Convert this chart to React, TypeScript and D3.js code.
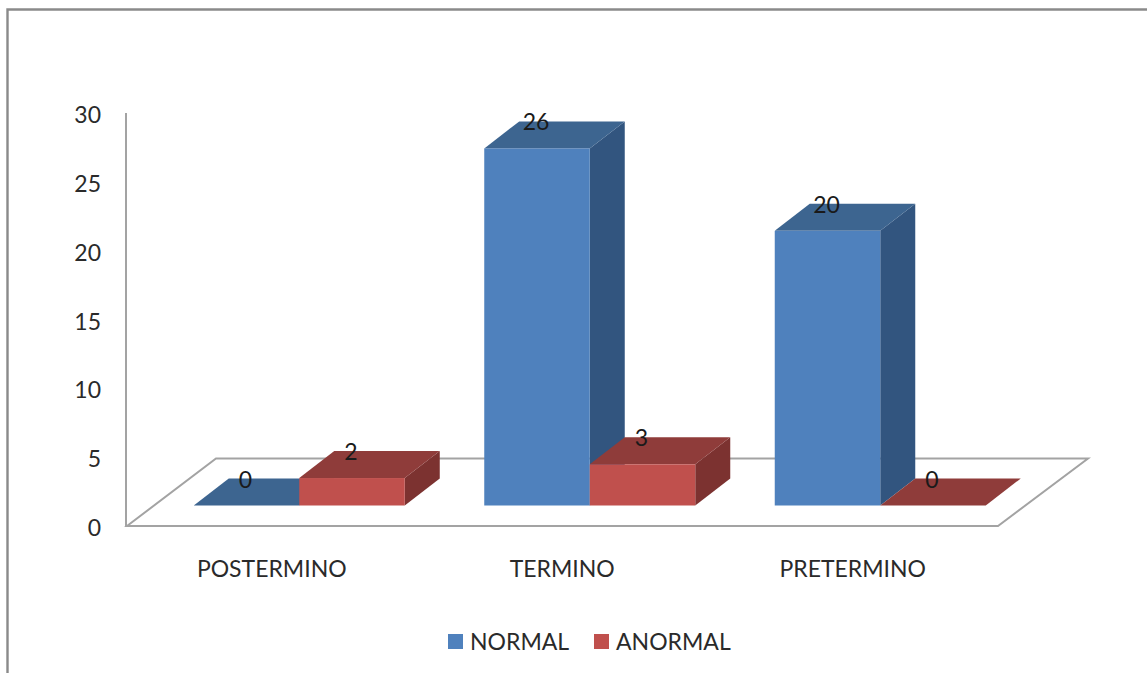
import * as d3 from "d3";

// Gestational-age groups and the two outcome series
const categories = ["POSTERMINO", "TERMINO", "PRETERMINO"];
const seriesNames = ["NORMAL", "ANORMAL"];
const normalValues = [0, 26, 20];
const anormalValues = [2, 3, 0];
const yTicks = [0, 5, 10, 15, 20, 25, 30];

const WIDTH = 1147;
const HEIGHT = 673;
const FONT = "Lato, Carlito, sans-serif";
const TEXT = "#2a2a2a";
const GRID = "#a3a3a3";

// Oblique projection offset of the chart's depth axis
const DEPTH_X = 35;
const DEPTH_Y = -27;

const palette: Record<string, { front: string; top: string; side: string }> = {
  NORMAL: { front: "#4f81bd", top: "#3d6590", side: "#32557f" },
  ANORMAL: { front: "#c0504d", top: "#8f3c3a", side: "#7c3230" },
};

const valueY = d3.scaleLinear().domain([0, 30]).range([526, 113]);
const barY = d3.scaleLinear().domain([0, 30]).range([505.5, 93.5]);
const groupX = d3.scaleBand<string>().domain(categories).range([154, 1025.5]);
const innerX = d3.scaleBand<string>().domain(seriesNames).range([0, 211]);

const poly = (pts: [number, number][]) => pts.map((p) => p.join(",")).join(" ");

function Bar3D({ x, w, y0, y1, name }: { x: number; w: number; y0: number; y1: number; name: string }) {
  const c = palette[name];
  const dx = DEPTH_X;
  const dy = DEPTH_Y;
  return (
    <g>
      {y0 > y1 && (
        <polygon
          points={poly([[x + w, y1], [x + w + dx, y1 + dy], [x + w + dx, y0 + dy], [x + w, y0]])}
          fill={c.side}
        />
      )}
      <polygon
        points={poly([[x, y1], [x + dx, y1 + dy], [x + w + dx, y1 + dy], [x + w, y1]])}
        fill={c.top}
      />
      {y0 > y1 && <rect x={x} y={y1} width={w} height={y0 - y1} fill={c.front} />}
    </g>
  );
}

export default function App() {
  const bars = categories.flatMap((cat, i) =>
    seriesNames.map((name) => {
      const value = name === "NORMAL" ? normalValues[i] : anormalValues[i];
      const x = (groupX(cat) as number) + (groupX.bandwidth() - 211) / 2 + (innerX(name) as number);
      return { cat, name, value, x, w: innerX.bandwidth(), y0: barY(0), y1: barY(value) };
    }),
  );

  return (
    <svg
      width={WIDTH}
      height={HEIGHT}
      viewBox={`0 0 ${WIDTH} ${HEIGHT}`}
      style={{ position: "fixed", left: 0, top: 0, background: "#fff" }}
    >
      {/* Chart-area frame, cut off on the right and at the bottom */}
      <path d={`M7.5,${HEIGHT} V9.5 H${WIDTH}`} fill="none" stroke="#8a8a8a" strokeWidth={2.4} />

      {/* Value axis and floor */}
      <polygon
        points={poly([[127, 526], [216, 458.5], [1088, 458.5], [998, 526]])}
        fill="#fff"
        stroke={GRID}
        strokeWidth={2}
      />
      <line x1={126} x2={126} y1={113} y2={527} stroke={GRID} strokeWidth={2} />
      <line x1={126} x2={998} y1={526} y2={526} stroke={GRID} strokeWidth={2} />

      {yTicks.map((t) => (
        <text key={t} x={101} y={valueY(t) + 2} dy="0.35em" textAnchor="end" fontFamily={FONT} fontSize={23} fill={TEXT}>
          {t}
        </text>
      ))}

      {bars.map((b) => (
        <Bar3D key={b.cat + b.name} x={b.x} w={b.w} y0={b.y0} y1={b.y1} name={b.name} />
      ))}

      {bars.map((b) => (
        <text
          key={"label" + b.cat + b.name}
          x={b.x + b.w / 2 - 1}
          y={b.y1 + DEPTH_Y + 1}
          dy="0.35em"
          textAnchor="middle"
          fontFamily={FONT}
          fontSize={23}
          fill="#1a1a1a"
        >
          {b.value}
        </text>
      ))}

      {categories.map((cat) => (
        <text
          key={cat}
          x={(groupX(cat) as number) + groupX.bandwidth() / 2 - 27.5}
          y={569}
          dy="0.35em"
          textAnchor="middle"
          fontFamily={FONT}
          fontSize={23}
          fill={TEXT}
        >
          {cat}
        </text>
      ))}

      {/* Legend */}
      <rect x={448} y={634} width={15} height={15} fill={palette.NORMAL.front} />
      <text x={470} y={642} dy="0.35em" fontFamily={FONT} fontSize={23} fill={TEXT}>
        {seriesNames[0]}
      </text>
      <rect x={594} y={634} width={15} height={15} fill={palette.ANORMAL.front} />
      <text x={616} y={642} dy="0.35em" fontFamily={FONT} fontSize={23} fill={TEXT}>
        {seriesNames[1]}
      </text>
    </svg>
  );
}
